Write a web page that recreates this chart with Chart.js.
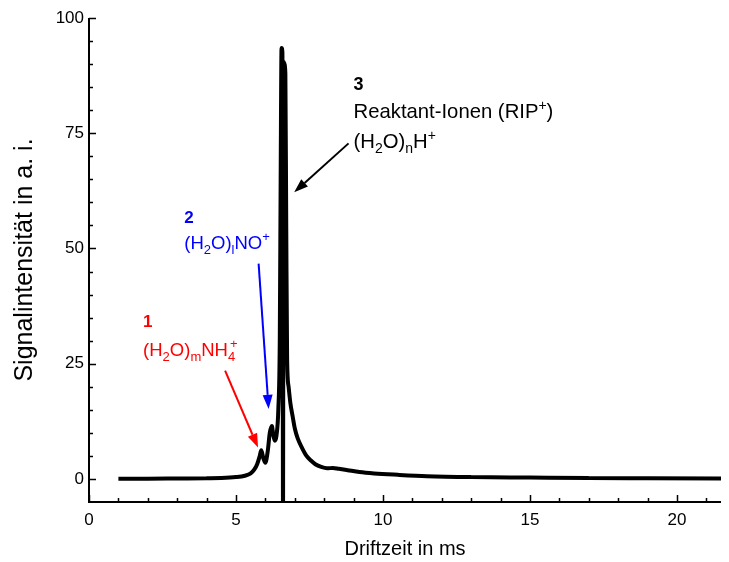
<!DOCTYPE html>
<html>
<head>
<meta charset="utf-8">
<script src="https://cdn.jsdelivr.net/npm/chart.js@4"></script>
<style>
  html, body { margin: 0; padding: 0; background: #fff; }
  #wrap { width: 729px; height: 562px; }
</style>
</head>
<body>
<div id="wrap"><canvas id="spektrum"></canvas></div>
<script>
// Driftzeit (ms) und Signal (a. i.)
const driftTime = [1, 2, 3, 4, 4.5, 5, 5.3, 5.5, 5.62, 5.72, 5.8, 5.86, 5.93, 6.0, 6.08, 6.15, 6.22, 6.27, 6.32, 6.38, 6.44, 6.49, 6.52, 6.55, 6.58, 6.6, 6.62, 6.65, 6.68, 6.71, 6.74, 6.79, 6.85, 6.93, 7.0, 7.1, 7.25, 7.4, 7.55, 7.7, 7.9, 8.1, 8.3, 8.5, 8.8, 9.2, 9.7, 10.5, 11.5, 13, 15, 17, 19, 21.5];
const signal    = [0.05, 0.05, 0.1, 0.15, 0.2, 0.4, 0.7, 1.2, 2.0, 3.2, 4.8, 6.2, 4.5, 3.5, 6.0, 10.0, 11.5, 9.5, 8.3, 9.5, 15, 30, 65, 93.5, 92.5, -8, 90.5, 90, 88, 55, 26, 20, 16.5, 13.5, 11, 8.8, 6.7, 5.0, 4.0, 3.2, 2.6, 2.3, 2.4, 2.2, 1.9, 1.5, 1.2, 0.9, 0.6, 0.4, 0.3, 0.2, 0.15, 0.1];

const xTicks = [0, 5, 10, 15, 20];
const yTicks = [0, 25, 50, 75, 100];

// Beschriftungen: [x, y] in Datenkoordinaten; Teile: 0 = normal, -1 = tief, 1 = hoch, 2 = hoch über vorigem Tiefzeichen
const labels = [
  { color: '#ff0000', size: 18.5, at: [1.84, 32.9], parts: [['1', 0, true]] },
  { color: '#ff0000', size: 18.5, at: [1.84, 26.7], parts: [['(H', 0], ['2', -1], ['O)', 0], ['m', -1], ['NH', 0], ['4', -1], ['+', 2]] },
  { color: '#0000ff', size: 18.5, at: [3.24, 55.5], parts: [['2', 0, true]] },
  { color: '#0000ff', size: 18.5, at: [3.24, 49.9], parts: [['(H', 0], ['2', -1], ['O)', 0], ['l', -1], ['NO', 0], ['+', 1]] },
  { color: '#000000', size: 20.3, at: [9.0, 84.3], parts: [['3', 0, true]] },
  { color: '#000000', size: 20.3, at: [9.0, 78.3], parts: [['Reaktant-Ionen (RIP', 0], ['+', 1], [')', 0]] },
  { color: '#000000', size: 20.3, at: [9.0, 71.9], parts: [['(H', 0], ['2', -1], ['O)', 0], ['n', -1], ['H', 0], ['+', 1]] }
];
const arrows = [
  { color: '#ff0000', from: [4.63, 23.5], to: [5.75, 6.8] },
  { color: '#0000ff', from: [5.77, 46.7], to: [6.11, 15.2] },
  { color: '#000000', from: [8.83, 72.8], to: [6.98, 62.2] }
];

const fontFam = '"Liberation Sans", Arial, sans-serif';

const axisPlugin = {
  id: 'axisPlugin',
  afterDatasetsDraw(chart) {
    const ctx = chart.ctx;
    const xs = chart.scales.x, ys = chart.scales.y;
    const a = chart.chartArea;
    ctx.save();
    ctx.strokeStyle = '#000';
    ctx.lineWidth = 2;
    ctx.beginPath();
    ctx.moveTo(a.left, a.top);
    ctx.lineTo(a.left, a.bottom);
    ctx.lineTo(a.right, a.bottom);
    ctx.stroke();
    ctx.lineWidth = 1.5;
    ctx.beginPath();
    for (let v = 0; v <= 21; v++) {
      const px = Math.round(xs.getPixelForValue(v)) + 0.5;
      const len = v % 5 === 0 ? 7 : 4;
      ctx.moveTo(px, a.bottom);
      ctx.lineTo(px, a.bottom - len);
    }
    for (let v = 0; v <= 100; v += 5) {
      const py = Math.round(ys.getPixelForValue(v)) + 0.5;
      const len = v % 25 === 0 ? 7 : 4;
      ctx.moveTo(a.left, py);
      ctx.lineTo(a.left + len, py);
    }
    ctx.stroke();

    // Pfeile
    arrows.forEach(ar => {
      const x1 = xs.getPixelForValue(ar.from[0]), y1 = ys.getPixelForValue(ar.from[1]);
      const x2 = xs.getPixelForValue(ar.to[0]), y2 = ys.getPixelForValue(ar.to[1]);
      const ang = Math.atan2(y2 - y1, x2 - x1);
      const hl = 14, hw = 5;
      const bx = x2 - hl * Math.cos(ang), by = y2 - hl * Math.sin(ang);
      ctx.strokeStyle = ar.color;
      ctx.fillStyle = ar.color;
      ctx.lineWidth = 2;
      ctx.beginPath();
      ctx.moveTo(x1, y1);
      ctx.lineTo(bx, by);
      ctx.stroke();
      ctx.beginPath();
      ctx.moveTo(x2, y2);
      ctx.lineTo(bx + hw * Math.sin(ang), by - hw * Math.cos(ang));
      ctx.lineTo(bx - hw * Math.sin(ang), by + hw * Math.cos(ang));
      ctx.closePath();
      ctx.fill();
    });

    // Texte mit Hoch-/Tiefstellung
    ctx.textBaseline = 'alphabetic';
    ctx.textAlign = 'left';
    labels.forEach(lb => {
      let x = xs.getPixelForValue(lb.at[0]);
      const y = ys.getPixelForValue(lb.at[1]);
      const small = Math.round(lb.size * 0.68);
      let lastSubX = x;
      ctx.fillStyle = lb.color;
      lb.parts.forEach(([txt, pos, bold]) => {
        if (pos === 0) {
          ctx.font = (bold ? 'bold ' + Math.round(lb.size * 0.9) : lb.size) + 'px ' + fontFam;
          ctx.fillText(txt, x, y);
          x += ctx.measureText(txt).width;
        } else if (pos === -1) {
          ctx.font = small + 'px ' + fontFam;
          lastSubX = x;
          ctx.fillText(txt, x, y + 5);
          x += ctx.measureText(txt).width;
        } else {
          ctx.font = small + 'px ' + fontFam;
          const sx = pos === 2 ? lastSubX + 2 : x;
          ctx.fillText(txt, sx, y - 8);
          x = Math.max(x, sx + ctx.measureText(txt).width);
        }
      });
    });
    ctx.restore();
  }
};

new Chart(document.getElementById('spektrum'), {
  type: 'line',
  data: {
    labels: driftTime,
    datasets: [{
      data: driftTime.map((t, i) => ({ x: t, y: signal[i] })),
      borderColor: '#000',
      borderWidth: 4,
      borderJoinStyle: 'bevel',
      pointRadius: 0,
      cubicInterpolationMode: 'monotone',
      fill: false
    }]
  },
  options: {
    responsive: true,
    maintainAspectRatio: false,
    animation: false,
    layout: { padding: { top: 18, right: 8, left: 0, bottom: 0 } },
    plugins: { legend: { display: false }, tooltip: { enabled: false } },
    scales: {
      x: {
        type: 'linear',
        min: 0,
        max: 21.5,
        border: { display: false },
        grid: { display: false, drawTicks: false },
        afterBuildTicks: s => { s.ticks = xTicks.map(v => ({ value: v })); },
        afterFit: s => { s.height = 60; },
        ticks: { color: '#000', padding: 8, font: { family: fontFam, size: 17 } },
        title: { display: true, text: 'Driftzeit in ms', color: '#000', padding: { top: 0, bottom: 1 }, font: { family: fontFam, size: 20 } }
      },
      y: {
        type: 'linear',
        min: -5,
        max: 100,
        border: { display: false },
        grid: { display: false, drawTicks: false },
        afterBuildTicks: s => { s.ticks = yTicks.map(v => ({ value: v })); },
        afterFit: s => { s.width = 89; },
        ticks: { color: '#000', padding: 5, font: { family: fontFam, size: 17 } },
        title: { display: true, text: 'Signalintensität in a. i.', color: '#000', padding: { top: 10, bottom: 0 }, font: { family: fontFam, size: 25 } }
      }
    }
  },
  plugins: [axisPlugin]
});
</script>
</body>
</html>
